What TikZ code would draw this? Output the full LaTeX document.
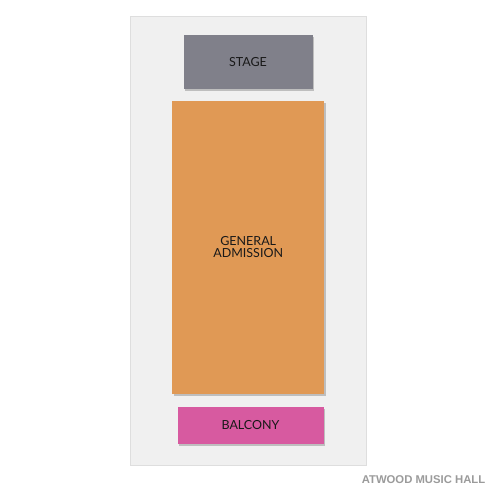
\documentclass[tikz,border=0pt]{standalone}
\usepackage{fontspec}
\setmainfont{Lato}
\newfontfamily\hallfont{Liberation Sans}
\usepackage{tikz}
\usetikzlibrary{positioning}
\tikzstyle{plan} = [x = 1pt, y = -1pt, every node/.style={transform shape}]
\definecolor{panelColor}{RGB}{240,240,240}
\definecolor{panelEdge}{RGB}{222,222,222}
\definecolor{stageColor}{RGB}{128,128,138}
\definecolor{floorColor}{RGB}{224,153,85}
\definecolor{balconyColor}{RGB}{215,90,160}
\definecolor{shadowColor}{RGB}{170,170,170}
\definecolor{hallColor}{RGB}{155,155,155}
\tikzstyle{panelStyle} = [fill=panelColor, draw=panelEdge, line width=.8pt]
\tikzstyle{blockStyle} = [draw=none, inner sep=0pt, align=center, font=\fontsize{12.5}{12}\selectfont, text=black!90]
\tikzstyle{shadowStyle} = [fill=shadowColor, opacity=.7]
\newcommand{\seatBlock}[7]{
  \fill [shadowStyle] (#2 - #4/2 + 1.8, #3 - #5/2 + 1.8) rectangle + (#4, #5);
  \node [blockStyle, fill=#6, minimum width=#4pt, minimum height=#5pt] (#1) at (#2, #3) {#7};
}

\begin{document}
\begin{tikzpicture}[plan]
  \useasboundingbox [fill=white] (0,0) rectangle (500,500);
  \filldraw [panelStyle] (130.5,16.5) rectangle (366,465);

  \seatBlock{stage}{248}{62}{129}{54}{stageColor}{STAGE}
  \seatBlock{general}{248.2}{247.3}{152}{293}{floorColor}{GENERAL\\ADMISSION}
  \seatBlock{balcony}{250.5}{425.5}{146}{37}{balconyColor}{BALCONY}

  \node [font=\hallfont\bfseries\fontsize{11.3}{12}\selectfont, text=hallColor] (hall) at (423.5,480) {ATWOOD MUSIC HALL};
\end{tikzpicture}
\end{document}
